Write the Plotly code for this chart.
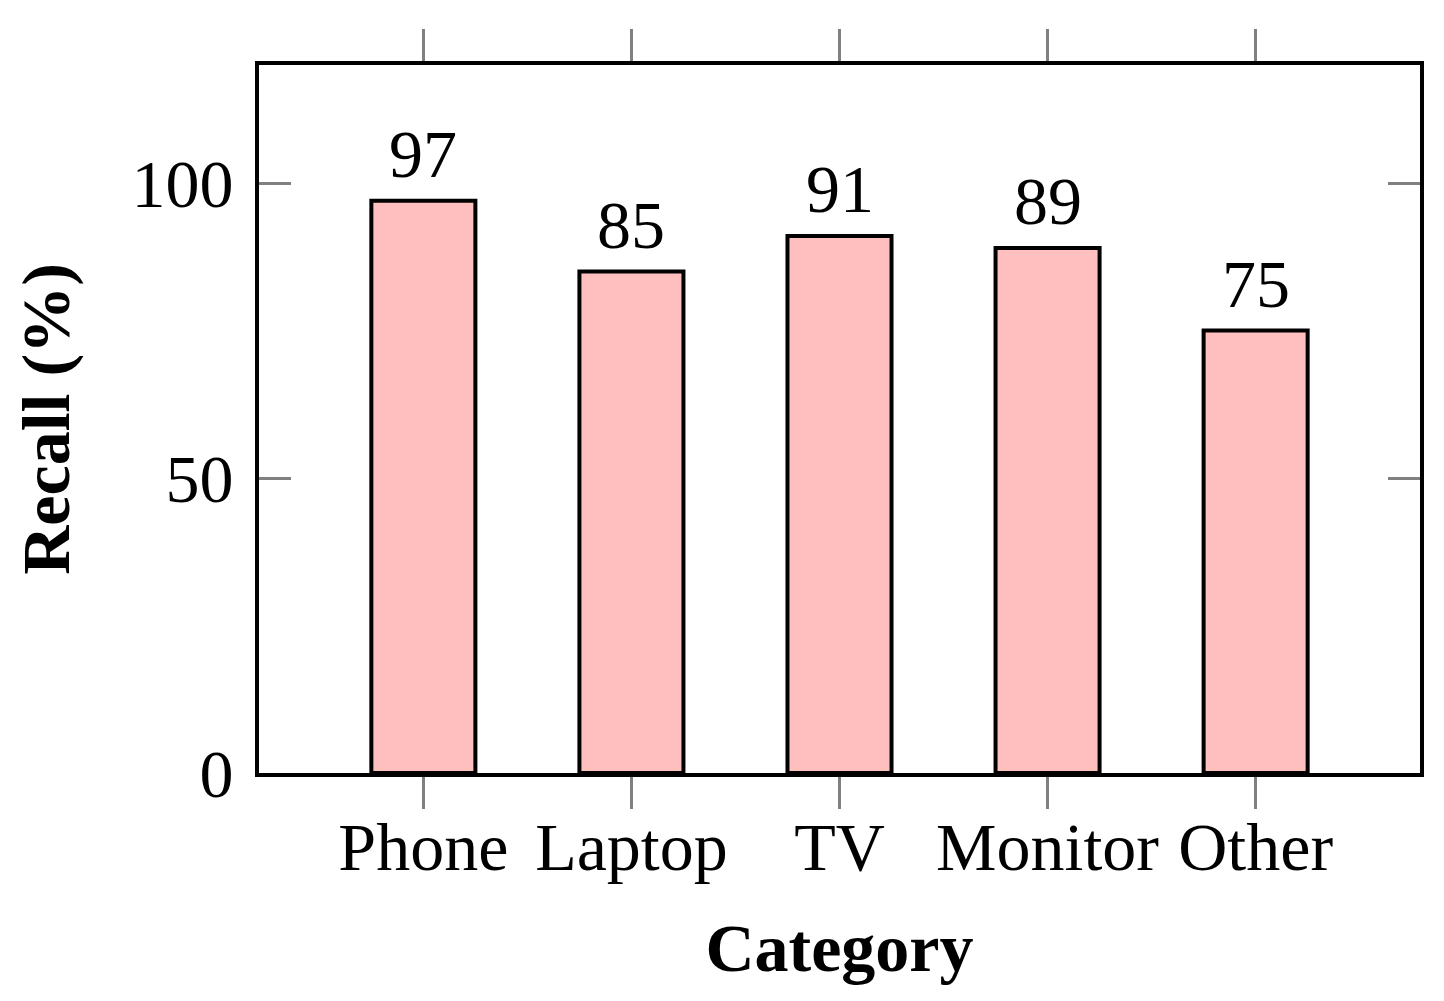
import plotly.graph_objects as go

categories = ["Phone", "Laptop", "TV", "Monitor", "Other"]
recall = [97, 85, 91, 89, 75]
y_ticks = [0, 50, 100]

FONT = "Liberation Serif"
FS = 68

fig = go.Figure(
    go.Bar(
        x=categories,
        y=recall,
        width=0.5,
        marker=dict(color="#FFBFBF", line=dict(color="black", width=4)),
        cliponaxis=False,
    )
)

for c, v in zip(categories, recall):
    fig.add_annotation(
        x=c, y=v, text=str(v), showarrow=False,
        yanchor="bottom", yshift=7,
        font=dict(family=FONT, size=FS, color="black"),
    )

fig.update_layout(
    width=1444,
    height=1001,
    margin=dict(l=251, r=32, t=57, b=236, autoexpand=False),
    plot_bgcolor="white",
    paper_bgcolor="white",
    showlegend=False,
    font=dict(family=FONT, color="black"),
)

fig.update_xaxes(
    range=[-0.79, 4.79],
    automargin=False,
    showline=True, linecolor="black", linewidth=4, mirror="allticks",
    ticks="outside", ticklen=32, tickwidth=3, tickcolor="#808080",
    tickfont=dict(family=FONT, size=FS, color="black"),
    ticklabelstandoff=-21,
    showgrid=False,
    title=dict(text="Category", font=dict(family=FONT, size=FS, color="black", weight="bold"), standoff=41),
)
fig.update_yaxes(
    range=[0, 120],
    automargin=False,
    tickvals=y_ticks,
    showline=True, linecolor="black", linewidth=4, mirror="allticks",
    ticks="inside", ticklen=32, tickwidth=3, tickcolor="#808080",
    tickfont=dict(family=FONT, size=FS, color="black"),
    ticklabelstandoff=8,
    showgrid=False, zeroline=False,
    title=dict(text="Recall (%)", font=dict(family=FONT, size=FS, color="black", weight="bold"), standoff=47),
)

fig.write_html("out.html")
